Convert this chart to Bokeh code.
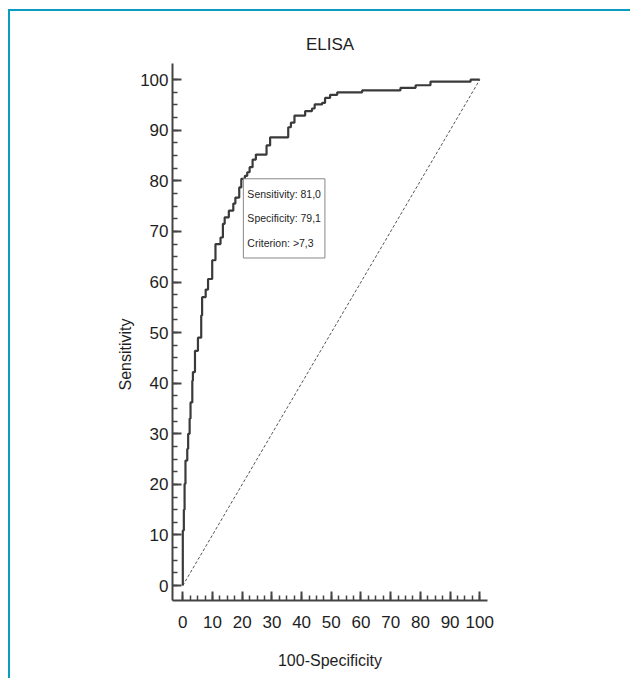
from bokeh.plotting import figure
from bokeh.models import Range1d, FixedTicker, Label, Title
from bokeh.embed import file_html
from bokeh.resources import INLINE

# ---------------- data ----------------
title_text = "ELISA"
x_label = "100-Specificity"
y_label = "Sensitivity"
tick_values = [0, 10, 20, 30, 40, 50, 60, 70, 80, 90, 100]
minor_values = [i * 2.5 for i in range(41)]

# ROC corner points (100-Specificity, Sensitivity)
fpr = [0.0, 0.0, 0.35, 0.6, 0.9, 1.5, 1.8, 2.3, 2.6, 3.2, 3.4, 4.1, 5.1, 6.2,
       6.5, 7.7, 8.5, 9.9, 11.0, 12.7, 13.5, 14.1, 15.5, 17.0, 17.7, 19.0,
       19.7, 20.9, 21.7, 22.5, 23.5, 24.6, 28.2, 29.4, 35.5, 36.4, 37.6, 41.2,
       43.5, 44.4, 46.9, 47.9, 49.6, 52.0, 60.4, 73.3, 78.4, 83.4, 96.9, 100.0]
tpr = [0.0, 10.9, 15.0, 20.1, 24.7, 27.0, 30.0, 33.0, 36.2, 40.5, 42.2, 46.4,
       49.0, 53.4, 57.0, 58.5, 60.6, 64.3, 67.5, 68.8, 71.5, 72.8, 74.1, 75.5,
       76.7, 78.7, 80.4, 81.0, 81.7, 82.7, 84.2, 85.2, 87.0, 88.6, 90.6, 91.5,
       92.9, 93.8, 94.3, 95.1, 95.4, 96.4, 97.0, 97.5, 97.9, 98.4, 98.9, 99.6,
       100.0, 100.0]

ref_x = [0, 100]
ref_y = [0, 100]

crit_sens = 81.0
crit_spec = 79.1
crit_value = ">7,3"

# staircase path (horizontal then vertical)
sx, sy = [fpr[0]], [tpr[0]]
for i in range(1, len(fpr)):
    sx += [fpr[i], fpr[i]]
    sy += [tpr[i - 1], tpr[i]]

FONT = "Liberation Sans"
AX = "#444444"
TXT = "#1e1e1e"
TEAL = "#0b9cc2"

p = figure(width=630, height=678, output_backend="svg", toolbar_location=None,
           x_range=Range1d(-3.47, 102.6), y_range=Range1d(-2.96, 103.2),
           min_border_left=172, min_border_right=143, min_border_top=63,
           min_border_bottom=78, title=title_text)

p.styles = {
    "background-image": "linear-gradient(%s, %s), linear-gradient(%s, %s)" % (TEAL, TEAL, TEAL, TEAL),
    "background-size": "100% 2px, 2px 100%",
    "background-position": "8px 9px, 8px 9px",
    "background-repeat": "no-repeat",
}
p.border_fill_color = None
p.background_fill_color = "white"
p.outline_line_color = None
p.grid.visible = False

p.title.align = "center"
p.title.text_font = FONT
p.title.text_font_size = "17px"
p.title.text_font_style = "normal"
p.title.text_color = TXT
p.title.standoff = 20

for ax in (p.xaxis[0], p.yaxis[0]):
    ax.ticker = FixedTicker(ticks=tick_values, minor_ticks=minor_values)
    ax.axis_line_color = AX
    ax.axis_line_width = 2
    ax.major_tick_line_color = AX
    ax.major_tick_line_width = 2
    ax.minor_tick_line_color = AX
    ax.minor_tick_line_width = 1.5
    ax.major_tick_in = 9
    ax.major_tick_out = 0
    ax.minor_tick_in = 5
    ax.minor_tick_out = 0
    ax.major_label_text_font = FONT
    ax.major_label_text_font_size = "17px"
    ax.major_label_text_color = TXT

p.xaxis.major_label_standoff = 15
p.yaxis.major_label_standoff = 4
p.xaxis.axis_label = x_label
p.xaxis.axis_label_text_font = FONT
p.xaxis.axis_label_text_font_size = "16px"
p.xaxis.axis_label_text_font_style = "normal"
p.xaxis.axis_label_text_color = TXT
p.xaxis.axis_label_standoff = 21

# y label (sits below the centre of the axis in the original)
p.add_layout(Title(text=y_label, align="left", offset=210, standoff=8,
                   text_font=FONT, text_font_size="16px",
                   text_font_style="normal", text_color=TXT), "left")

# diagonal reference line
p.line(ref_x, ref_y, line_color="#555555", line_width=1, line_dash="3 2")

# ROC curve
p.line(sx, sy, line_color="#3a3a3a", line_width=2.2)

# criterion box
info = ("Sensitivity: %s\nSpecificity: %s\nCriterion: %s"
        % (("%.1f" % crit_sens).replace(".", ","),
           ("%.1f" % crit_spec).replace(".", ","), crit_value))
p.add_layout(Label(x=100 - crit_spec, y=crit_sens, x_offset=-1.5, y_offset=-3,
                   text=info, text_align="left", text_baseline="top",
                   text_font=FONT, text_font_size="10.5px", text_color=TXT,
                   text_line_height=2.05,
                   padding=dict(left=4, right=4, top=9, bottom=9),
                   background_fill_color="white",
                   border_line_color="#888888", border_line_width=1))

open("out.html", "w").write(file_html(p, INLINE))
